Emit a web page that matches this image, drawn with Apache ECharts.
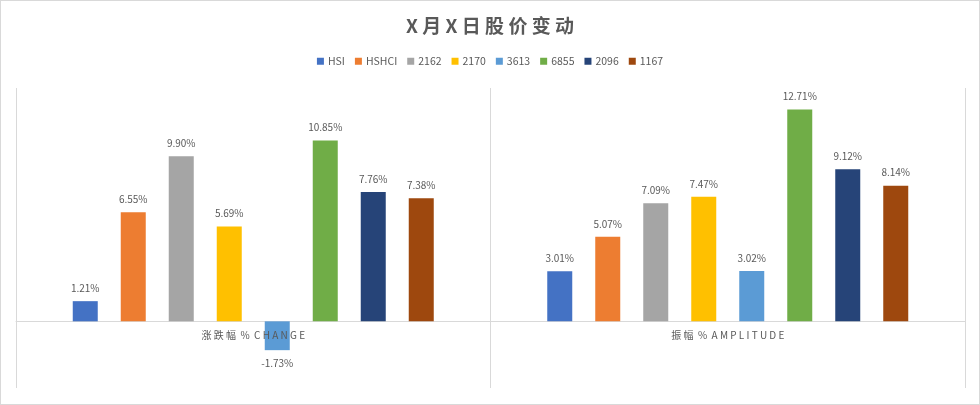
<!DOCTYPE html>
<html>
<head>
<meta charset="utf-8">
<script src="https://cdn.jsdelivr.net/npm/echarts@6/dist/echarts.min.js"></script>
<style>
html,body{margin:0;padding:0;background:#fff;}
#wrap{position:relative;width:980px;height:405px;}
#c{width:980px;height:405px;}
#frame{position:absolute;left:0;top:0;width:980px;height:405px;box-sizing:border-box;border:1px solid #d9d9d9;pointer-events:none;}
</style>
</head>
<body>
<div id="wrap"><div id="c"></div><div id="frame"></div></div>
<script>
const categories = ['涨 跌 幅  %  C H A N G E', '振 幅  %  A M P L I T U D E'];
const seriesNames = ['HSI', 'HSHCI', '2162', '2170', '3613', '6855', '2096', '1167'];
const seriesColors = ['#4472C4', '#ED7D31', '#A5A5A5', '#FFC000', '#5B9BD5', '#70AD47', '#264478', '#9E480E'];
const hsi = [1.21, 3.01];
const hshci = [6.55, 5.07];
const s2162 = [9.90, 7.09];
const s2170 = [5.69, 7.47];
const s3613 = [-1.73, 3.02];
const s6855 = [10.85, 12.71];
const s2096 = [7.76, 9.12];
const s1167 = [7.38, 8.14];
const allValues = [hsi, hshci, s2162, s2170, s3613, s6855, s2096, s1167];

const font = "'Microsoft YaHei','Noto Sans CJK SC',sans-serif";
const chart = echarts.init(document.getElementById('c'));
chart.setOption({
  animation: false,
  title: {
    text: 'X 月 X 日 股 价 变 动',
    left: 'center',
    top: 11,
    textStyle: {fontSize: 19, fontWeight: 'bold', color: '#595959', fontFamily: font}
  },
  legend: {
    top: 51,
    left: 'center',
    itemWidth: 7,
    itemHeight: 7,
    itemGap: 10,
    icon: 'rect',
    textStyle: {fontSize: 10.5, color: '#595959', fontFamily: font, padding: [0, 0, 0, -1]},
    data: seriesNames
  },
  grid: {left: 16, right: 15, top: 88, bottom: 17, containLabel: false},
  xAxis: [{
    type: 'category',
    data: categories,
    axisLine: {onZero: true, lineStyle: {color: '#d9d9d9'}},
    axisTick: {show: false},
    axisLabel: {show: false},
    splitLine: {show: true, lineStyle: {color: '#d9d9d9'}}
  }, {
    type: 'category',
    data: categories,
    position: 'bottom',
    offset: -67,
    z: 5,
    axisLine: {show: false, onZero: false},
    axisTick: {show: false},
    axisLabel: {color: '#595959', fontSize: 10, fontFamily: font, margin: 9},
    splitLine: {show: false}
  }],
  yAxis: {
    type: 'value',
    min: -4,
    max: 14,
    show: false,
    splitLine: {show: false}
  },
  series: seriesNames.map((name, i) => ({
    name: name,
    type: 'bar',
    barWidth: 25,
    barGap: '92%',
    itemStyle: {color: seriesColors[i]},
    label: {
      show: true,
      color: '#595959',
      fontSize: 10,
      fontFamily: font,
      distance: 8,
      formatter: p => p.value.toFixed(2) + '%'
    },
    data: allValues[i].map(v => ({value: v, label: {position: v < 0 ? 'bottom' : 'top'}}))
  }))
});
</script>
</body>
</html>
